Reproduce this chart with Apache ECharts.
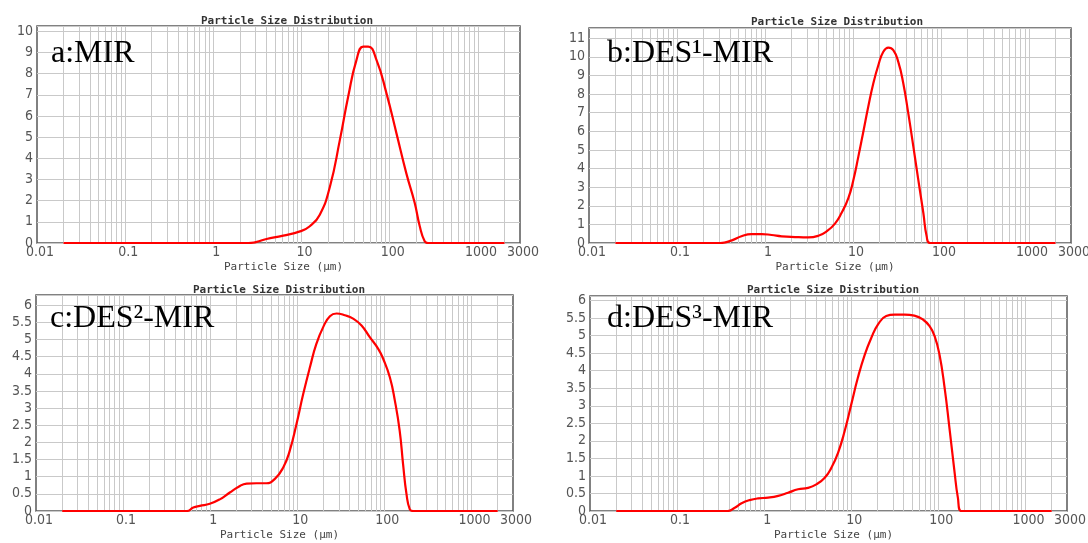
<!DOCTYPE html>
<html>
<head>
<meta charset="utf-8">
<script src="https://cdn.jsdelivr.net/npm/echarts@6/dist/echarts.min.js"></script>
<style>
html, body { margin: 0; background: #fff; }
#chart { width: 1088px; height: 543px; }
</style>
</head>
<body>
<div id="chart"></div>
<script>
// particle size (um) and volume (%)
const sizesA = [0.02, 2.5, 4.0, 6.2, 9.6, 12.4, 16.1, 21, 27.2, 33.8, 42, 50, 57, 70.7, 91.7, 119, 154, 192, 219, 249, 271, 2000];
const valuesA = [0, 0, 0.19, 0.35, 0.55, 0.79, 1.34, 2.67, 4.87, 6.92, 8.65, 9.28, 9.28, 8.65, 7.08, 5.19, 3.30, 1.89, 0.79, 0.08, 0, 0];

const sizesB = [0.02, 0.31, 0.42, 0.54, 0.70, 0.92, 1.19, 1.55, 2.19, 3.1, 4.04, 5.0, 6.24, 7.4, 8.85, 10.1, 11.5, 13.1, 14.9, 17.0, 19.4, 22.1, 25.2, 28.7, 32.7, 37.3, 42.5, 48.5, 55.2, 63, 68.7, 75, 2000];
const valuesB = [0, 0, 0.14, 0.36, 0.48, 0.48, 0.43, 0.36, 0.32, 0.30, 0.39, 0.62, 1.04, 1.61, 2.41, 3.39, 4.64, 5.98, 7.32, 8.57, 9.55, 10.27, 10.5, 10.36, 9.73, 8.57, 6.96, 5.18, 3.39, 1.61, 0.36, 0, 0];

const sizesC = [0.02, 0.54, 0.64, 0.76, 0.99, 1.29, 1.68, 2.1, 2.62, 3.4, 4.4, 5.5, 6.9, 8.2, 9.8, 11.7, 14.0, 16.6, 19.9, 23.7, 28.2, 35.2, 43.8, 54.7, 68, 85, 96.9, 115.6, 132, 150, 164, 179.6, 196, 214, 2000];
const valuesC = [0, 0, 0.10, 0.15, 0.21, 0.34, 0.54, 0.70, 0.80, 0.81, 0.81, 0.93, 1.27, 1.76, 2.54, 3.41, 4.20, 4.88, 5.37, 5.68, 5.76, 5.71, 5.61, 5.41, 5.07, 4.73, 4.44, 3.90, 3.22, 2.34, 1.37, 0.49, 0.05, 0, 0];

const sizesD = [0.02, 0.38, 0.46, 0.55, 0.68, 0.85, 1.11, 1.45, 1.88, 2.45, 3.19, 3.97, 4.96, 5.9, 7.05, 8.4, 10, 11.9, 14.3, 17, 20.3, 25.2, 31.5, 41, 53, 66.5, 79.3, 90.4, 103, 118, 134, 153, 167.5, 183, 2000];
const valuesD = [0, 0, 0.095, 0.22, 0.31, 0.36, 0.38, 0.43, 0.52, 0.62, 0.66, 0.76, 0.95, 1.23, 1.66, 2.28, 3.04, 3.80, 4.46, 4.94, 5.32, 5.56, 5.60, 5.60, 5.57, 5.46, 5.27, 4.99, 4.46, 3.51, 2.37, 1.14, 0.38, 0, 0];

const panelNames = ['a:MIR', 'b:DES\u00b9-MIR', 'c:DES\u00b2-MIR', 'd:DES\u00b3-MIR'];
const yMaxes = [10.25, 11.55, 6.3, 6.13];
const ySteps = [1, 1, 0.5, 0.5];

// vertical grid lines of the log axis: 1..9 x each decade, up to 2000
const decades = [0.01, 0.1, 1, 10, 100, 1000];
const multipliers = [1, 2, 3, 4, 5, 6, 7, 8, 9];
const gridSizes = [];
decades.forEach(d => multipliers.forEach(m => {
  const v = +(d * m).toPrecision(3);
  if (v > 0.01 && v < 3000) gridSizes.push(v);
}));

const allSizes = [sizesA, sizesB, sizesC, sizesD];
const allValues = [valuesA, valuesB, valuesC, valuesD];

const grids = [
  { left: 37, top: 26, width: 483, height: 217 },
  { left: 589, top: 28, width: 482, height: 215 },
  { left: 36, top: 295, width: 477, height: 216 },
  { left: 590, top: 296, width: 477, height: 215 }
];

const titlePos = [[287, 21], [837, 22], [279, 290], [833, 290]];
const labelPos = [[51, 54], [607, 54], [50, 319], [607, 319]];

const tickFont = '"Liberation Sans Narrow", "DejaVu Sans Condensed", sans-serif';
const monoFont = '"DejaVu Sans Mono", monospace';
const gridColor = '#c9c9c9';

const option = {
  animation: false,
  backgroundColor: '#fff',
  grid: grids.map(g => Object.assign({
    show: true,
    borderColor: '#585858',
    borderWidth: 1.5,
    backgroundColor: 'transparent',
    containLabel: false,
    outerBoundsMode: 'none'
  }, g)),
  xAxis: grids.map((g, i) => ({
    type: 'log',
    logBase: 10,
    gridIndex: i,
    min: 0.01,
    max: 3000,
    name: 'Particle Size (\u03bcm)',
    nameLocation: 'middle',
    nameGap: 19,
    nameTextStyle: { fontFamily: monoFont, fontSize: 11, color: '#444', padding: [0, 0, 0, 10] },
    axisLine: { show: false },
    axisTick: { show: false },
    splitLine: { show: false },
    axisLabel: {
      fontFamily: tickFont,
      fontSize: 14,
      color: '#555',
      margin: 2,
      padding: [0, 0, 0, 6],
      showMinLabel: true,
      showMaxLabel: true,
      hideOverlap: false,
      formatter: v => String(+(+v).toPrecision(6))
    }
  })),
  yAxis: grids.map((g, i) => ({
    type: 'value',
    gridIndex: i,
    min: 0,
    max: yMaxes[i],
    interval: ySteps[i],
    axisLine: { show: false },
    axisTick: { show: false },
    splitLine: { show: true, lineStyle: { color: gridColor, width: 1 } },
    axisLabel: {
      fontFamily: tickFont,
      fontSize: 14,
      color: '#555',
      margin: 4,
      showMaxLabel: false,
      formatter: v => {
        const k = v / ySteps[i];
        return Math.abs(k - Math.round(k)) > 1e-6 ? '' : String(+(+v).toFixed(2));
      }
    }
  })),
  series: [],
  graphic: []
};

grids.forEach((g, i) => {
  option.series.push({
    type: 'lines',
    coordinateSystem: 'cartesian2d',
    xAxisIndex: i,
    yAxisIndex: i,
    silent: true,
    z: 1,
    lineStyle: { color: gridColor, width: 1, opacity: 1, curveness: 0 },
    data: gridSizes.map(v => ({ coords: [[v, 0], [v, yMaxes[i]]] }))
  });
  option.series.push({
    type: 'line',
    xAxisIndex: i,
    yAxisIndex: i,
    data: allSizes[i].map((s, k) => [s, allValues[i][k]]),
    smooth: 0.5,
    showSymbol: false,
    silent: true,
    z: 5,
    lineStyle: { color: '#ff0000', width: 2.2 }
  });
  option.graphic.push({
    type: 'text',
    x: titlePos[i][0],
    y: titlePos[i][1],
    z: 10,
    style: {
      text: 'Particle Size Distribution',
      font: 'bold 11px ' + monoFont,
      fill: '#333',
      align: 'center',
      verticalAlign: 'middle'
    }
  });
  option.graphic.push({
    type: 'text',
    x: labelPos[i][0],
    y: labelPos[i][1],
    z: 10,
    style: {
      text: panelNames[i],
      font: '32px "Liberation Serif", "Times New Roman", serif',
      fill: '#000',
      align: 'left',
      verticalAlign: 'middle'
    }
  });
});

const chart = echarts.init(document.getElementById('chart'));
chart.setOption(option);
</script>
</body>
</html>
